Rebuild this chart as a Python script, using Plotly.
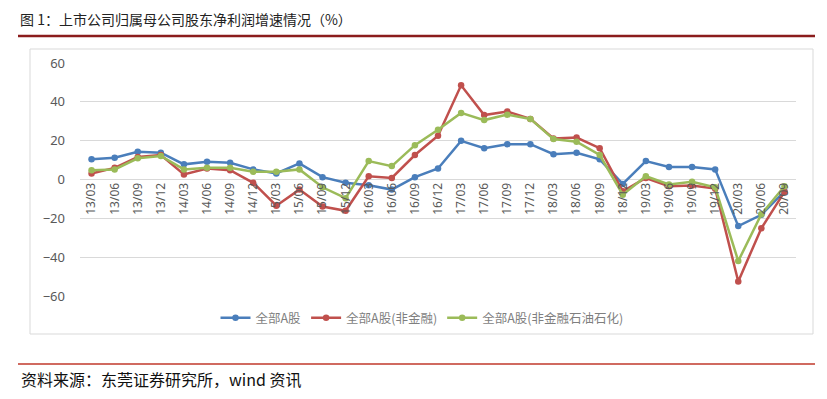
import plotly.graph_objects as go

categories = ["13/03", "13/06", "13/09", "13/12", "14/03", "14/06", "14/09", "14/12",
              "15/03", "15/06", "15/09", "15/12", "16/03", "16/06", "16/09", "16/12",
              "17/03", "17/06", "17/09", "17/12", "18/03", "18/06", "18/09", "18/12",
              "19/03", "19/06", "19/09", "19/12", "20/03", "20/06", "20/09"]

all_a = [10.4, 11.2, 14.3, 13.8, 7.8, 9.1, 8.6, 5.2, 3.1, 8.3, 1.2, -1.7, -3.0, -5.2, 1.2, 5.7,
         19.9, 16.1, 18.2, 18.2, 13.0, 13.8, 10.4, -2.3, 9.5, 6.4, 6.4, 5.2, -24.0, -18.2, -6.1]
non_fin = [3.1, 6.0, 11.6, 12.6, 2.6, 5.7, 4.8, -1.7, -13.5, -5.2, -13.9, -16.1, 1.7, 0.8, 12.6, 22.5,
           48.5, 33.2, 35.0, 31.2, 21.1, 21.6, 16.1, -6.1, 0.8, -3.5, -3.1, -4.7, -52.5, -25.1, -6.4]
non_fin_oil = [4.7, 5.2, 10.9, 12.1, 5.2, 6.0, 6.0, 4.0, 4.0, 5.2, -4.0, -9.6, 9.5, 6.9, 17.7, 25.6,
               34.3, 30.6, 33.4, 31.2, 20.8, 19.5, 12.6, -7.8, 1.7, -2.6, -1.2, -4.0, -42.0, -17.9, -3.5]

series_names = ["全部A股", "全部A股(非金融)", "全部A股(非金融石油石化)"]
series_colors = ["#4A7EBB", "#C0504D", "#9BBB59"]
y_ticks = [-60, -40, -20, 0, 20, 40, 60]

# the page body has an 8px margin; work in window pixels and subtract it
OFF = 8
W, H = 827 - OFF, 399 - 2 * OFF
L, R, T, B = 80 - OFF, 796 - OFF, 63 - OFF, 296 - OFF


def px2x(px):
    return (px - OFF - L) / (R - L)


def py2y(py):
    return (B - (py - OFF)) / (B - T)


fig = go.Figure()
for name, vals, col in zip(series_names, [all_a, non_fin, non_fin_oil], series_colors):
    fig.add_trace(go.Scatter(
        x=categories, y=vals, name=name, mode="lines+markers",
        line=dict(color=col, width=2.5),
        marker=dict(color=col, size=6.5, symbol="circle"),
    ))

fig.update_layout(
    width=W, height=H,
    margin=dict(l=L, r=W - R, t=T, b=H - B, autoexpand=False),
    paper_bgcolor="white", plot_bgcolor="white",
    font=dict(family="Noto Sans, Noto Sans CJK SC", color="#595959"),
    showlegend=True,
    legend=dict(orientation="h", x=px2x(422), xanchor="center", y=py2y(318), yanchor="middle",
                font=dict(family="Noto Sans CJK SC", size=12.5, color="#7f7f7f"),
                bgcolor="rgba(0,0,0,0)", itemwidth=30),
    xaxis=dict(type="category", range=[-0.5, len(categories) - 0.5],
               anchor="free", position=0.5, showline=False, showgrid=False,
               zeroline=False, ticks="", tickangle=-90, automargin=False,
               tickfont=dict(size=12, color="#595959")),
    yaxis=dict(range=[-60, 60], tickvals=y_ticks, showgrid=True, gridcolor="#d9d9d9",
               gridwidth=1, zeroline=True, zerolinecolor="#d9d9d9", zerolinewidth=1,
               showline=False, ticks="", ticklabelstandoff=14, automargin=False,
               tickfont=dict(size=13, color="#595959")),
)

# chart border box
fig.add_shape(type="rect", xref="paper", yref="paper",
              x0=px2x(30), x1=px2x(813), y0=py2y(334), y1=py2y(49),
              line=dict(color="#d9d9d9", width=1), fillcolor="rgba(0,0,0,0)", layer="below")
# title underline
fig.add_shape(type="line", xref="paper", yref="paper",
              x0=px2x(18), x1=px2x(815), y0=py2y(36), y1=py2y(36),
              line=dict(color="#8B1C1C", width=2.5))
# source top line
fig.add_shape(type="line", xref="paper", yref="paper",
              x0=px2x(18), x1=px2x(815), y0=py2y(364), y1=py2y(364),
              line=dict(color="#C0392B", width=1.5))

fig.add_annotation(text="图 1：上市公司归属母公司股东净利润增速情况（%）",
                   xref="paper", yref="paper", x=px2x(18), y=py2y(19),
                   xanchor="left", yanchor="middle", showarrow=False,
                   font=dict(family="Noto Sans CJK SC", size=14, color="#222222"))
fig.add_annotation(text="资料来源：东莞证券研究所，wind 资讯",
                   xref="paper", yref="paper", x=px2x(19), y=py2y(379),
                   xanchor="left", yanchor="middle", showarrow=False,
                   font=dict(family="Noto Sans CJK SC", size=16, color="#111111"))

fig.write_html("out.html")
